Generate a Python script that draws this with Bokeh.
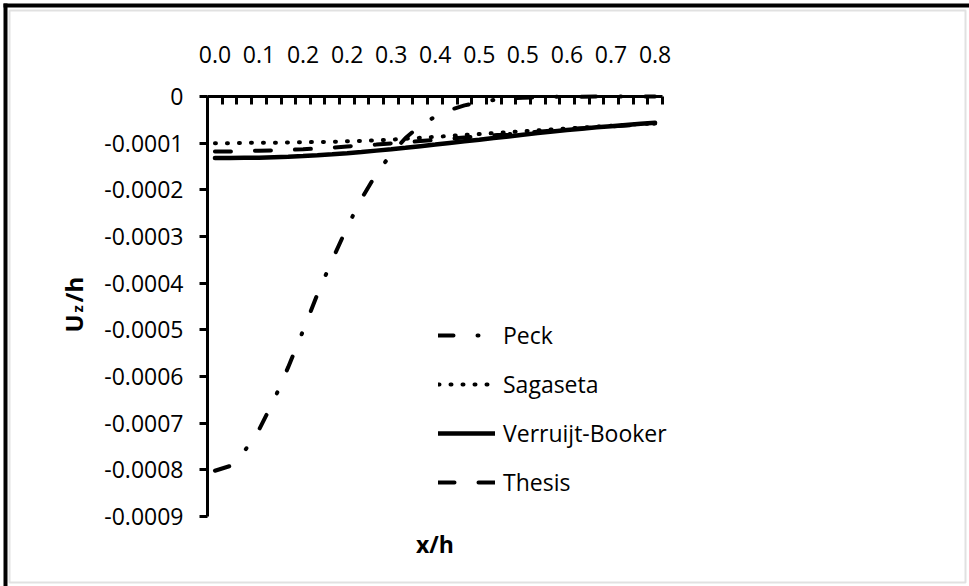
from math import pi
from bokeh.plotting import figure
from bokeh.models import (FixedTicker, NumeralTickFormatter, Range1d,
                          Legend, LegendItem, Label, BoxAnnotation)
from bokeh.embed import file_html
from bokeh.resources import INLINE

# ---------------- data ----------------
x_h = [0.000, 0.026, 0.051, 0.077, 0.103, 0.128, 0.154, 0.179, 0.205, 0.231,
       0.256, 0.282, 0.308, 0.333, 0.359, 0.385, 0.410, 0.436, 0.462, 0.487,
       0.513, 0.538, 0.564, 0.590, 0.615, 0.641, 0.667, 0.692, 0.718, 0.744,
       0.769]

peck = [-0.000802, -0.000792, -0.000761, -0.000714, -0.000651, -0.000580,
        -0.000502, -0.000424, -0.000350, -0.000280, -0.000219, -0.000166,
        -0.000123, -0.000089, -0.000062, -0.000043, -0.000029, -0.000019,
        -0.000012, -0.0000074, -0.0000044, -0.0000026, -0.0000015, -0.0000008,
        -0.0000005, -0.0000003, -0.0000001, -0.0000001, -0.00000005,
        -0.00000003, -0.00000001]

sagaseta = [-0.000100, -0.000100, -0.0000995, -0.0000990, -0.0000990, -0.0000985,
            -0.0000980, -0.0000975, -0.0000970, -0.0000960, -0.0000950, -0.0000940,
            -0.0000925, -0.0000905, -0.0000885, -0.0000865, -0.0000845, -0.0000825,
            -0.0000805, -0.0000785, -0.0000765, -0.0000745, -0.0000725, -0.0000705,
            -0.0000685, -0.0000665, -0.0000645, -0.0000625, -0.0000605, -0.0000590,
            -0.0000575]

verruijt_booker = [-0.000132, -0.000132, -0.0001315, -0.000131, -0.000130, -0.000129,
                   -0.0001275, -0.000126, -0.000124, -0.0001215, -0.000119, -0.000116,
                   -0.000113, -0.000110, -0.0001065, -0.000103, -0.0000995, -0.000096,
                   -0.0000925, -0.000089, -0.0000855, -0.000082, -0.0000785, -0.000075,
                   -0.000072, -0.000069, -0.000066, -0.0000635, -0.000061, -0.0000585,
                   -0.0000565]

thesis = [-0.000118, -0.000118, -0.000117, -0.000116, -0.0001155, -0.0001145,
          -0.000113, -0.0001115, -0.0001095, -0.000107, -0.000105, -0.000103,
          -0.0001005, -0.000098, -0.0000955, -0.000093, -0.0000905, -0.000088,
          -0.0000855, -0.000083, -0.0000805, -0.000078, -0.0000755, -0.000073,
          -0.0000705, -0.000068, -0.000066, -0.000064, -0.000062, -0.000060,
          -0.000058]

series_names = ["Peck", "Sagaseta", "Verruijt-Booker", "Thesis"]
y_ticks = [0, -0.0001, -0.0002, -0.0003, -0.0004, -0.0005, -0.0006, -0.0007,
           -0.0008, -0.0009]
y_tick_labels = ["0", "-0.0001", "-0.0002", "-0.0003", "-0.0004", "-0.0005",
                 "-0.0006", "-0.0007", "-0.0008", "-0.0009"]
x_label_step = 3
x_title = "x/h"

FONT = "Open Sans"
W, H = 969, 586
# plot-area placement in pixels (layout only)
PL, PR, PT, PB = 207, 662, 96, 516

# category boundaries (Excel: ticks between categories)
half = (x_h[1] - x_h[0]) / 2
bounds = [x_h[0] - half] + [(a + b) / 2 for a, b in zip(x_h[:-1], x_h[1:])] + [x_h[-1] + half]
b0, b1 = bounds[0], bounds[-1]
y_lo, y_hi = y_ticks[-1], y_ticks[0]
kx = (b1 - b0) / (PR - PL)
ky = (y_hi - y_lo) / (PB - PT)

p = figure(width=W, height=H,
           x_range=Range1d(b0 - PL * kx, b1 + (W - PR) * kx),
           y_range=Range1d(y_lo - (H - PB) * ky, y_hi + PT * ky),
           x_axis_location="above",
           output_backend="svg", toolbar_location=None,
           min_border_left=0, min_border_right=0,
           min_border_top=0, min_border_bottom=0)
p.grid.visible = False
p.outline_line_color = None
p.background_fill_color = "white"
p.border_fill_color = "white"

# top x axis, pinned at y = 0
xa = p.xaxis[0]
xa.fixed_location = y_hi
xa.bounds = (b0, b1)
xa.ticker = FixedTicker(ticks=x_h[::x_label_step], minor_ticks=bounds)
xa.formatter = NumeralTickFormatter(format="0.0")
xa.major_tick_in = 0
xa.major_tick_out = 0
xa.minor_tick_in = 8
xa.minor_tick_out = 0
xa.minor_tick_line_width = 3
xa.minor_tick_line_color = "black"
xa.axis_line_width = 3
xa.axis_line_color = "black"
xa.major_label_standoff = 34
xa.major_label_text_font = FONT
xa.major_label_text_font_size = "23px"
xa.major_label_text_color = "black"

# y axis pinned at the left edge of the category band
ya = p.yaxis[0]
ya.fixed_location = b0
ya.bounds = (y_lo, y_hi)
ya.ticker = FixedTicker(ticks=y_ticks, minor_ticks=[])
ya.formatter = NumeralTickFormatter(format="0.0000")
ya.major_label_overrides = {t: l for t, l in zip(y_ticks, y_tick_labels)}
ya.major_tick_in = 0
ya.major_tick_out = 8
ya.minor_tick_in = 0
ya.minor_tick_out = 0
ya.major_tick_line_width = 3
ya.major_tick_line_color = "black"
ya.axis_line_width = 3
ya.axis_line_color = "black"
ya.major_label_standoff = 16
ya.major_label_text_font = FONT
ya.major_label_text_font_size = "23px"
ya.major_label_text_color = "black"

# series
r_peck = p.line(x_h, peck, line_color="black", line_width=4,
                line_dash="15 24 1 24", line_cap="round")
r_sag = p.line(x_h, sagaseta, line_color="black", line_width=4,
               line_dash="1 11", line_cap="round")
r_vb = p.line(x_h, verruijt_booker, line_color="black", line_width=4.5,
              line_cap="round")
r_th = p.line(x_h, thesis, line_color="black", line_width=4,
              line_dash="16 24", line_cap="round")

legend = Legend(items=[LegendItem(label=n, renderers=[r])
                       for n, r in zip(series_names, [r_peck, r_sag, r_vb, r_th])],
                location=(438, 87), glyph_width=57, glyph_height=34,
                label_height=34, spacing=15, padding=0, margin=0,
                label_standoff=8, background_fill_alpha=0,
                border_line_color=None, label_text_font=FONT,
                label_text_font_size="23px", label_text_color="black")
p.add_layout(legend)

# x title
p.add_layout(Label(x=(PL + PR) / 2, y=543, x_units="canvas", y_units="canvas",
                   text=x_title, text_font=FONT, text_font_style="bold",
                   text_font_size="23px", text_color="black",
                   text_baseline="middle", text_align="center"))

# y title U_z/h (rotated)
for txt, x, y, size in [("U", 73, 332, "24px"), ("z", 76, 312, "15px"), ("/h", 73, 302, "24px")]:
    p.add_layout(Label(x=x, y=y, x_units="canvas", y_units="canvas", text=txt,
                       angle=pi / 2, text_font=FONT, text_font_style="bold",
                       text_font_size=size, text_color="black",
                       text_baseline="alphabetic", text_align="left"))

# outer frame
box = dict(left_units="canvas", right_units="canvas",
           top_units="canvas", bottom_units="canvas")
p.add_layout(BoxAnnotation(left=3, right=969, top=3, bottom=7,
                           fill_color="black", fill_alpha=1, line_color=None, **box))
p.add_layout(BoxAnnotation(left=3, right=7, top=3, bottom=586,
                           fill_color="black", fill_alpha=1, line_color=None, **box))
p.add_layout(BoxAnnotation(left=9, right=965, top=10, bottom=582,
                           fill_alpha=0, line_color="#9a9a9a", line_width=2, **box))

open("out.html", "w").write(file_html(p, INLINE))
